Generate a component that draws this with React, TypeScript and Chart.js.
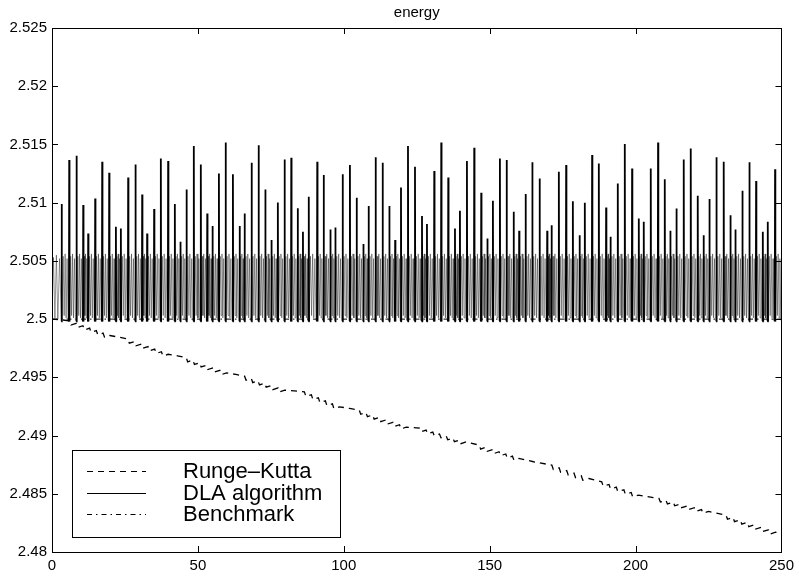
import React, { useEffect, useRef } from 'react';
import { Chart, registerables } from 'chart.js';

Chart.register(...registerables);

const FONT = '"Liberation Sans", Arial, Helvetica, sans-serif';

const chartTitle = 'energy';
const seriesNames = ['Runge\u2013Kutta', 'DLA algorithm', 'Benchmark'];

const xTickValues = [0, 50, 100, 150, 200, 250];
const xTickLabels = ['0', '50', '100', '150', '200', '250'];
const yTickValues = [2.48, 2.485, 2.49, 2.495, 2.5, 2.505, 2.51, 2.515, 2.52, 2.525];
const yTickLabels = ['2.48', '2.485', '2.49', '2.495', '2.5', '2.505', '2.51', '2.515', '2.52', '2.525'];

// Runge-Kutta (dashed)
const rkX = [
  0, 3,
  6, 6.5, 8.3, 8.8, 10.6, 11.1, 12.9, 13.4, 15.2, 15.7, 17.5, 18.0, 19.8,
  23, 26, 26.5, 28.3, 28.8, 30.6, 31.1, 32.9, 33.4, 35.2, 35.7, 37.5, 38.0, 39.8,
  43, 46, 46.5, 48.3, 48.8, 50.6, 51.1, 52.9, 53.4, 55.2, 55.7, 57.5, 58.0, 59.8,
  63, 66, 66.5, 68.3, 68.8, 70.6, 71.1, 72.9, 73.4, 75.2, 75.7, 77.5, 78.0, 79.8,
  83, 86.5, 87.0, 88.9, 89.4, 91.3, 91.8, 93.7, 94.2, 96.1, 96.6, 98.5,
  102, 105.3, 105.8, 107.6, 108.1, 109.9, 110.4, 112.2, 112.7, 114.5, 115.0, 116.8, 117.3, 119.1, 119.6, 121.4,
  125.9, 126.4, 128.2, 128.7, 130.5, 131.0, 132.8, 133.3, 135.1, 135.6, 137.4, 137.9, 139.7, 140.2, 141.9,
  146.4, 146.9, 148.7, 149.2, 151.0, 151.5, 153.2, 153.7, 155.5, 156.0, 157.8, 158.3, 160.0,
  165, 171.3, 171.8, 173.8, 174.3, 176.4, 176.9, 178.9, 179.4, 181.4, 181.9, 184.0,
  188.4, 188.9, 190.9, 191.4, 193.4, 193.9, 196.0, 196.5, 198.5, 199.0, 201.0,
  208, 208.5, 210.4, 210.9, 212.9, 213.4, 215.3, 215.8, 217.7, 218.2, 220.1, 220.6, 222.6, 223.1, 225.0,
  231, 231.5, 233.4, 233.9, 235.9, 236.4, 238.3, 238.8, 240.7, 241.2, 243.1, 243.6, 245.6, 246.1, 248.0,
  250,
];
const rkY = [
  2.5, 2.49995,
  2.49985, 2.49949, 2.49964, 2.49928, 2.49943, 2.49907, 2.49922, 2.49886, 2.49901, 2.49865, 2.4988, 2.49844, 2.49859,
  2.49845, 2.4983, 2.49793, 2.49808, 2.49771, 2.49786, 2.49749, 2.49764, 2.49727, 2.49742, 2.49705, 2.4972, 2.49683, 2.49698,
  2.49685, 2.4967, 2.49633, 2.49648, 2.49611, 2.49626, 2.49589, 2.49604, 2.49567, 2.49582, 2.49545, 2.4956, 2.49523, 2.49538,
  2.49525, 2.4951, 2.49475, 2.4949, 2.49455, 2.4947, 2.49435, 2.4945, 2.49415, 2.4943, 2.49395, 2.4941, 2.49375, 2.4939,
  2.49383, 2.49376, 2.49335, 2.4935, 2.49309, 2.49324, 2.49283, 2.49298, 2.49257, 2.49272, 2.49231, 2.49247,
  2.49233, 2.49219, 2.49183, 2.49198, 2.49162, 2.49177, 2.49141, 2.49156, 2.4912, 2.49135, 2.49099, 2.49114, 2.49078, 2.49093, 2.49057, 2.49072,
  2.49064, 2.49032, 2.49047, 2.49015, 2.4903, 2.48998, 2.49013, 2.48981, 2.48996, 2.48964, 2.48979, 2.48947, 2.48962, 2.4893, 2.48945,
  2.48918, 2.48884, 2.48899, 2.48865, 2.4888, 2.48846, 2.48861, 2.48827, 2.48842, 2.48808, 2.48823, 2.48789, 2.48804,
  2.48775, 2.48746, 2.48708, 2.48723, 2.48685, 2.487, 2.48662, 2.48677, 2.48639, 2.48654, 2.48616, 2.48631,
  2.48603, 2.48565, 2.4858, 2.48542, 2.48557, 2.48519, 2.48534, 2.48496, 2.48511, 2.48473, 2.48488,
  2.4846, 2.48429, 2.48444, 2.48413, 2.48428, 2.48397, 2.48412, 2.48381, 2.48396, 2.48365, 2.4838, 2.48349, 2.48364, 2.48333, 2.48348,
  2.48317, 2.48281, 2.48296, 2.4826, 2.48275, 2.48239, 2.48254, 2.48218, 2.48233, 2.48197, 2.48212, 2.48176, 2.48191, 2.48155, 2.4817,
  2.48165,
];

// DLA algorithm: spike positions and heights
const dlaSpikeX = [
  3.3, 5.9, 8.4, 10.7, 12.4, 14.8, 17.2, 19.6, 21.9, 23.6, 26.1, 28.6, 30.9, 32.6, 35.0, 37.3, 39.8, 42.1, 44.0, 46.1,
  48.6, 51.0, 53.2, 55.0, 57.2, 59.5, 62.0, 64.3, 66.0, 68.4, 70.8, 73.1, 75.2, 77.4, 79.7, 82.0, 84.2, 86.0, 88.0,
  90.9, 93.1, 95.4, 97.1, 99.6, 102.1, 104.4, 106.7, 108.5, 110.9, 113.3, 115.6, 117.6, 119.6, 122.0, 124.4, 126.8, 128.5,
  131.0, 133.4, 135.8, 138.1, 139.8, 142.2, 144.7, 147.1, 149.2, 151.1, 153.5, 155.8, 158.2, 160.1, 162.3, 164.6, 167.1, 169.7,
  171.2, 173.7, 176.2, 178.5, 180.8, 182.6, 185.1, 187.4, 189.9, 191.4, 193.9, 196.3, 198.8, 201.1, 202.8, 205.2, 207.7,
  210.0, 211.9, 214.0, 216.5, 218.9, 221.3, 223.3, 225.3, 227.7, 230.2, 232.5, 234.2, 236.6, 239.0, 241.3, 243.6, 245.3, 247.8,
];
const dlaSpikeY = [
  2.50988, 2.51366, 2.51403, 2.50979, 2.50736, 2.51036, 2.51351, 2.51257, 2.50793, 2.50779, 2.51217, 2.51328, 2.51071, 2.50736,
  2.50945, 2.5138, 2.51357, 2.50988, 2.50664, 2.51114, 2.51486, 2.51328, 2.50908, 2.50799, 2.51251, 2.51517, 2.51245, 2.50799,
  2.50908, 2.51343, 2.51494, 2.51114, 2.50679, 2.51002, 2.51371, 2.51386, 2.50951, 2.5075, 2.51051,
  2.51351, 2.51237, 2.5077, 2.50787, 2.51245, 2.51323, 2.51042, 2.50644, 2.50971, 2.51389, 2.51343, 2.50971, 2.50679, 2.51131,
  2.51486, 2.51308, 2.50885, 2.50816, 2.51271, 2.51517, 2.51217, 2.50779, 2.50931, 2.51357, 2.51472, 2.51085, 2.50693, 2.51016,
  2.5138, 2.51366, 2.50922, 2.50759, 2.51074, 2.51348, 2.51208, 2.50759,
  2.50807, 2.51265, 2.51323, 2.51013, 2.50721, 2.50999, 2.51409, 2.51337, 2.50959, 2.50707, 2.51165, 2.51503, 2.51294, 2.50865,
  2.50836, 2.51294, 2.51517, 2.51202, 2.50759, 2.5095, 2.51371, 2.51466, 2.51059, 2.50721, 2.51031, 2.51389, 2.51351, 2.50893,
  2.5077, 2.51102, 2.51348, 2.51185, 2.5075, 2.50836, 2.51286,
];
const dlaLow = 2.4998;
const dlaLeadX = [0, 0.5, 1.0, 1.5, 2.0, 2.6];
const dlaLeadY = [2.5, 2.5053, 2.5001, 2.5055, 2.5, 2.5052];
// fast inner oscillation between spikes (fractions of the gap to the next spike)
const bandFractions = [0.2, 0.33, 0.46, 0.59, 0.72, 0.85];
const bandValues = [2.5054, 2.5003, 2.5056, 2.5001, 2.5052, 2.4999];

// Benchmark (dash-dot)
const benchX = [0, 250];
const benchY = [2.5, 2.5];

function buildDla() {
  const pts: { x: number; y: number }[] = [];
  dlaLeadX.forEach((x, i) => pts.push({ x, y: dlaLeadY[i] }));
  dlaSpikeX.forEach((x, i) => {
    const next = i < dlaSpikeX.length - 1 ? dlaSpikeX[i + 1] : x + 2.3;
    const gap = next - x;
    pts.push({ x: x - 0.1, y: dlaLow }, { x, y: dlaSpikeY[i] }, { x: x + 0.1, y: dlaLow });
    bandFractions.forEach((f, j) => {
      const bx = x + f * gap;
      if (bx <= 250) pts.push({ x: bx, y: bandValues[j] });
    });
  });
  return pts;
}

const frameAndLegend = {
  id: 'frameAndLegend',
  afterDraw(chart: any) {
    const { ctx, chartArea: a, scales } = chart;
    const xs = scales.x;
    const ys = scales.y;
    ctx.save();
    ctx.strokeStyle = '#000';
    ctx.lineWidth = 1;
    ctx.setLineDash([]);
    ctx.strokeRect(Math.round(a.left) + 0.5, Math.round(a.top) + 0.5, Math.round(a.right - a.left), Math.round(a.bottom - a.top));
    const tl = 6;
    ctx.beginPath();
    xTickValues.forEach((v) => {
      const px = Math.round(xs.getPixelForValue(v)) + 0.5;
      ctx.moveTo(px, a.bottom);
      ctx.lineTo(px, a.bottom - tl);
      ctx.moveTo(px, a.top);
      ctx.lineTo(px, a.top + tl);
    });
    yTickValues.forEach((v) => {
      const py = Math.round(ys.getPixelForValue(v)) + 0.5;
      ctx.moveTo(a.left, py);
      ctx.lineTo(a.left + tl, py);
      ctx.moveTo(a.right, py);
      ctx.lineTo(a.right - tl, py);
    });
    ctx.stroke();

    // title
    ctx.fillStyle = '#000';
    ctx.font = `15px ${FONT}`;
    ctx.textAlign = 'center';
    ctx.textBaseline = 'middle';
    ctx.fillText(chartTitle, (a.left + a.right) / 2, a.top - 15);

    // legend box
    const bx = a.left + 20;
    const bw = 268;
    const bh = 87;
    const by = a.bottom - 15 - bh;
    ctx.fillStyle = '#fff';
    ctx.fillRect(bx, by, bw, bh);
    ctx.strokeRect(Math.round(bx) + 0.5, Math.round(by) + 0.5, bw, bh);
    const rows = [by + 21, by + 43, by + 64];
    const dashes = [[6, 5], [], [5, 4, 1.5, 4]];
    ctx.font = `22px ${FONT}`;
    ctx.textAlign = 'left';
    rows.forEach((ry, i) => {
      ctx.beginPath();
      ctx.setLineDash(dashes[i]);
      ctx.lineWidth = 1;
      ctx.moveTo(bx + 15, ry + 0.5);
      ctx.lineTo(bx + 74, ry + 0.5);
      ctx.stroke();
      ctx.setLineDash([]);
      ctx.fillStyle = '#000';
      ctx.fillText(seriesNames[i], bx + 111, ry + 1);
    });
    ctx.restore();
  },
};

export default function App() {
  const ref = useRef<HTMLCanvasElement>(null);
  useEffect(() => {
    document.body.style.margin = '0';
    const dlaData = buildDla();
    const rkData = rkX.map((x, i) => ({ x, y: rkY[i] }));
    const benchData = benchX.map((x, i) => ({ x, y: benchY[i] }));
    const chart = new Chart(ref.current as HTMLCanvasElement, {
      type: 'line',
      data: {
        datasets: [
          {
            label: seriesNames[0],
            data: rkData,
            borderColor: '#000',
            borderWidth: 1.3,
            borderDash: [6, 5],
            pointRadius: 0,
            tension: 0,
          },
          {
            label: seriesNames[1],
            data: dlaData,
            borderColor: '#000',
            borderWidth: 1,
            pointRadius: 0,
            tension: 0,
            segment: {
              borderColor: (c: any) =>
                Math.max(c.p0.parsed.y, c.p1.parsed.y) > 2.5057 ? '#000' : 'rgba(0,0,0,0.4)',
              borderWidth: (c: any) => (Math.max(c.p0.parsed.y, c.p1.parsed.y) > 2.5057 ? 1.8 : 1),
            },
          },
          {
            label: seriesNames[2],
            data: benchData,
            borderColor: '#000',
            borderWidth: 1,
            borderDash: [5, 4, 1.5, 4],
            pointRadius: 0,
            tension: 0,
          },
        ],
      },
      options: {
        animation: false,
        responsive: false,
        devicePixelRatio: 1,
        layout: { padding: { top: 28, right: 16, left: 0, bottom: 0 } },
        plugins: {
          legend: { display: false },
          title: { display: false },
          tooltip: { enabled: false },
        },
        scales: {
          x: {
            type: 'linear',
            min: 0,
            max: 250,
            grid: { display: false, drawTicks: false },
            border: { display: false },
            afterBuildTicks: (s: any) => {
              s.ticks = xTickValues.map((v) => ({ value: v }));
            },
            afterFit: (s: any) => {
              s.height = 25;
            },
            ticks: {
              autoSkip: false,
              maxRotation: 0,
              padding: 5,
              color: '#000',
              font: { family: FONT, size: 15 },
              callback: (_v: any, i: number) => xTickLabels[i],
            },
          },
          y: {
            type: 'linear',
            min: 2.48,
            max: 2.525,
            grid: { display: false, drawTicks: false },
            border: { display: false },
            afterBuildTicks: (s: any) => {
              s.ticks = yTickValues.map((v) => ({ value: v }));
            },
            afterFit: (s: any) => {
              s.width = 52;
            },
            ticks: {
              autoSkip: false,
              padding: 5,
              color: '#000',
              font: { family: FONT, size: 15 },
              callback: (_v: any, i: number) => yTickLabels[i],
            },
          },
        },
      },
      plugins: [frameAndLegend],
    });
    return () => chart.destroy();
  }, []);
  return <canvas ref={ref} width={799} height={577} style={{ display: 'block', width: 799, height: 577 }} />;
}
